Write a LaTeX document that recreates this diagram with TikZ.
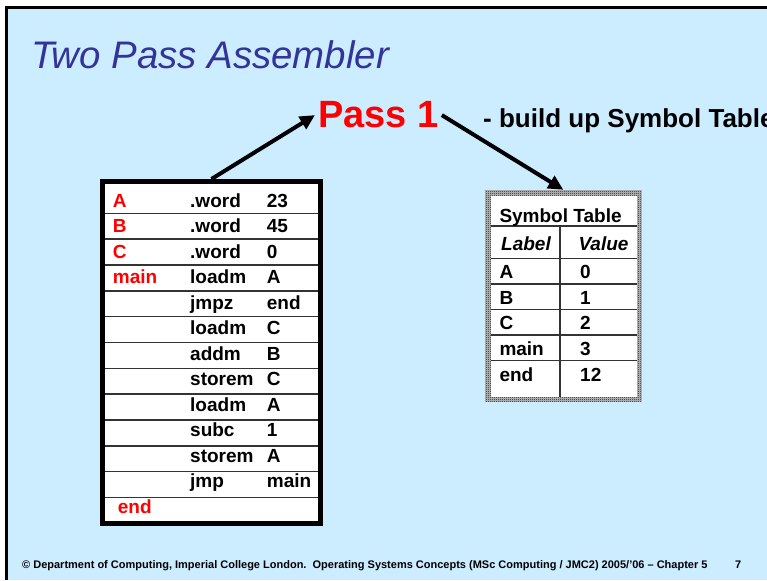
\documentclass[tikz,border=0pt]{standalone}
\usepackage{fontspec}
\setmainfont{Liberation Sans}
\usetikzlibrary{arrows.meta,patterns.meta}
\definecolor{slidebg}{HTML}{CCECFF}
\definecolor{titleblue}{HTML}{333399}
\definecolor{rulegray}{HTML}{333333}
\pgfdeclarepattern{
  name=finechecker, type=uncolored,
  bottom left={\pgfpoint{0pt}{0pt}}, top right={\pgfpoint{2pt}{2pt}},
  tile size={\pgfpoint{2pt}{2pt}},
  code={\pgfpathrectangle{\pgfpoint{0pt}{0pt}}{\pgfpoint{1pt}{1pt}}
        \pgfpathrectangle{\pgfpoint{1pt}{1pt}}{\pgfpoint{1pt}{1pt}}
        \pgfusepath{fill}}}
\tikzset{
  cell/.style={anchor=base west, inner sep=0pt, font=\fontsize{19}{22}\selectfont\bfseries},
  redcell/.style={cell, text=red},
  tabrule/.style={draw=rulegray, line width=1.5pt},
  bigarrow/.style={line width=4pt, -{Triangle[length=15pt,width=14pt]}},
  footer/.style={anchor=base west, inner sep=0pt, font=\fontsize{11}{13}\selectfont\bfseries},
}
\begin{document}
\begin{tikzpicture}[x=1pt,y=-1pt]
  \useasboundingbox (0,0) rectangle (767,580);
  % slide background and frame
  \fill[white] (0,0) rectangle (767,580);
  \fill[slidebg] (6.5,7.5) rectangle (767,580);
  \draw[line width=3pt] (6.5,580) -- (6.5,7.5) -- (767,7.5);

  % title
  \node[anchor=base west, inner sep=0pt, text=titleblue,
        font=\fontsize{38.4}{44}\selectfont\itshape] (title) at (31,69) {Two Pass Assembler};

  % pass label and remark
  \node[anchor=base west, inner sep=3pt, text=red,
        font=\fontsize{38}{44}\selectfont\bfseries] (pass) at (315,128) {Pass 1};
  \node[anchor=base west, inner sep=0pt,
        font=\fontsize{26}{31}\selectfont\bfseries] (remark) at (483,128) {- build up Symbol Table};

  % program listing
  \node[draw=black, line width=5pt, fill=white, minimum width=218pt, minimum height=342pt,
        inner sep=0pt] (lt) at (211.5,352.5) {};
  \foreach \k in {0,...,11}
    \draw[tabrule] (105,213.3+\k*25.84) -- (318,213.3+\k*25.84);
  \foreach \lab/\op/\arg [count=\i] in {A/.word/23, B/.word/45, C/.word/0, main/loadm/A,
      /jmpz/end, /loadm/C, /addm/B, /storem/C, /loadm/A, /subc/1, /storem/A, /jmp/main} {
    \node[redcell] (lab\i) at (112.7,207+\i*25.52-25.52) {\lab};
    \node[cell] (op\i) at (190,207+\i*25.52-25.52) {\op};
    \node[cell] (arg\i) at (266.7,207+\i*25.52-25.52) {\arg};
  }
  \node[redcell] (lab13) at (117.7,513.3) {end};

  % symbol table
  \node[preaction={fill=gray!50}, pattern=finechecker, pattern color=gray!20!black,
        minimum width=156.7pt, minimum height=211.7pt, inner sep=0pt] (st) at (563.35,295.85) {};
  \fill[white] (491,196) rectangle (636.7,396.7);
  \foreach \yy in {226,258.3,284,309.3,335,360.7}
    \draw[tabrule] (491,\yy) -- (636.7,\yy);
  \draw[tabrule] (560,226) -- (560,396.7);
  \node[cell] (sthead) at (499.3,222.7) {Symbol Table};
  \node[cell, font=\fontsize{19}{22}\selectfont\bfseries\itshape] (stlabel) at (501,250.7) {Label};
  \node[cell, font=\fontsize{19}{22}\selectfont\bfseries\itshape] (stvalue) at (578.3,250.7) {Value};
  \foreach \nm/\val/\yy [count=\i] in {A/0/278.7, B/1/304, C/2/329.7, main/3/355.3, end/12/381.7} {
    \node[cell] (sn\i) at (499.3,\yy) {\nm};
    \node[cell] (sv\i) at (580,\yy) {\val};
  }

  % arrows
  \draw[bigarrow] (lt.north) -- (pass.west);
  \draw[bigarrow] (pass.east) -- (st.north);

  % footer
  \node[footer] (foot) at (22,568)
    {\textcopyright{} Department of Computing, Imperial College London.\ \ Operating Systems Concepts (MSc Computing / JMC2) 2005/'06 -- Chapter 5};
  \node[footer] (pageno) at (735,568) {7};
\end{tikzpicture}
\end{document}
